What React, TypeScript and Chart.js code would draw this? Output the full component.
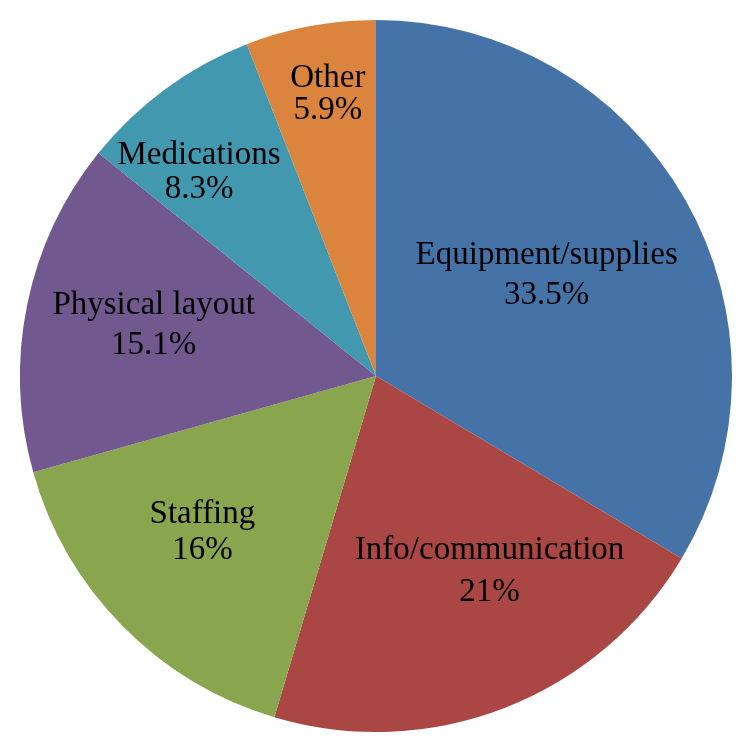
import React, { useEffect, useRef } from "react";
import { Chart, registerables } from "chart.js";

Chart.register(...registerables);

const categories = ["Equipment/supplies", "Info/communication", "Staffing", "Physical layout", "Medications", "Other"];
const values = [33.5, 21, 16, 15.1, 8.3, 5.9];
const colors = ["#4673A7", "#AA4643", "#89A54E", "#71588F", "#4198AF", "#DB843D"];
// label placement: angular offset from slice middle (degrees), radial fraction, line gap (px)
const labelAngleOffset = [-1.55, -9.2, 2.95, 1.85, -4.4, 1.0];
const labelRadius = [0.56, 0.629, 0.652, 0.642, 0.763, 0.808];
const labelLineGap = [40.5, 42, 36, 40.5, 34.5, 32];

const FONT_SIZE = 33;
const CAP_HALF = FONT_SIZE * 0.662 / 2;

const labelPlugin = {
  id: "sliceLabels",
  afterDatasetsDraw(chart: any) {
    const ctx = chart.ctx;
    const meta = chart.getDatasetMeta(0);
    ctx.save();
    ctx.fillStyle = "#000";
    ctx.font = `${FONT_SIZE}px "Liberation Serif", "DejaVu Serif", serif`;
    ctx.textAlign = "center";
    ctx.textBaseline = "alphabetic";
    meta.data.forEach((arc: any, i: number) => {
      const p = arc.getProps(["x", "y", "startAngle", "endAngle", "outerRadius"], true);
      const mid = (p.startAngle + p.endAngle) / 2 + (labelAngleOffset[i] * Math.PI) / 180;
      const r = p.outerRadius * labelRadius[i];
      const cx = p.x + Math.cos(mid) * r;
      const cy = p.y + Math.sin(mid) * r;
      const g = labelLineGap[i] / 2;
      ctx.fillText(categories[i], cx, cy - g + CAP_HALF);
      ctx.fillText(`${values[i]}%`, cx, cy + g + CAP_HALF);
    });
    ctx.restore();
  },
};

export default function App() {
  const ref = useRef<HTMLCanvasElement>(null);
  useEffect(() => {
    document.body.style.margin = "0";
    const chart = new Chart(ref.current!, {
      type: "pie",
      data: {
        labels: categories,
        datasets: [
          {
            data: values,
            backgroundColor: colors,
            borderWidth: 0,
          },
        ],
      },
      options: {
        responsive: false,
        animation: false,
        layout: { padding: { left: 20, right: 16, top: 20, bottom: 17 } },
        plugins: { legend: { display: false }, tooltip: { enabled: false } },
      },
      plugins: [labelPlugin],
    });
    return () => chart.destroy();
  }, []);
  return (
    <div style={{ width: 748, height: 749, background: "#fff" }}>
      <canvas ref={ref} width={748} height={749} />
    </div>
  );
}
